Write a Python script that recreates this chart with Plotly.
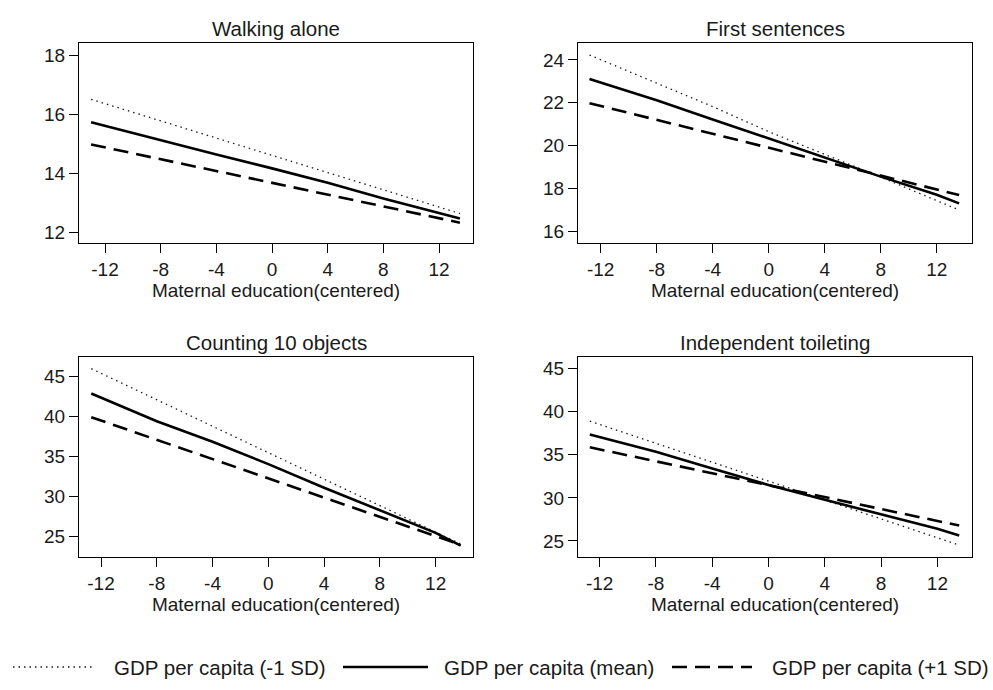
import plotly.graph_objects as go

W, H = 993, 690

# ---------------- data ----------------
titles = ["Walking alone", "First sentences", "Counting 10 objects", "Independent toileting"]
series_names = ["GDP per capita (-1 SD)", "GDP per capita (mean)", "GDP per capita (+1 SD)"]

x_walk = [-13.0, -8, -4, 0, 4, 8, 12, 13.5]
walk_low = [16.50, 15.77, 15.19, 14.60, 14.02, 13.44, 12.85, 12.63]
walk_mean = [15.72, 15.10, 14.63, 14.16, 13.67, 13.14, 12.65, 12.46]
walk_high = [14.97, 14.47, 14.07, 13.67, 13.27, 12.87, 12.47, 12.32]

x_sent = [-12.8, -8, -4, 0, 4, 8, 12, 13.6]
sent_low = [24.23, 22.91, 21.82, 20.65, 19.60, 18.53, 17.43, 16.99]
sent_mean = [23.11, 22.12, 21.22, 20.32, 19.45, 18.55, 17.70, 17.30]
sent_high = [21.98, 21.20, 20.55, 19.90, 19.25, 18.60, 17.95, 17.69]

x_count = [-12.7, -8, -4, 0, 4, 8, 12, 13.8]
count_low = [45.96, 42.07, 38.77, 35.50, 32.15, 28.84, 25.53, 24.00]
count_mean = [42.84, 39.38, 36.80, 34.00, 31.05, 28.20, 25.40, 23.80]
count_high = [39.88, 37.06, 34.66, 32.26, 29.86, 27.46, 25.06, 23.90]

x_toil = [-12.7, -8, -4, 0, 4, 8, 12, 13.55]
toil_low = [38.90, 36.32, 34.13, 31.93, 29.74, 27.54, 25.35, 24.50]
toil_mean = [37.35, 35.35, 33.40, 31.50, 29.77, 28.10, 26.40, 25.63]
toil_high = [35.87, 34.24, 32.86, 31.47, 30.09, 28.70, 27.32, 26.78]

x_ticks = [-12, -8, -4, 0, 4, 8, 12]
y_ticks = [[12, 14, 16, 18], [16, 18, 20, 22, 24], [25, 30, 35, 40, 45], [25, 30, 35, 40, 45]]
x_title = "Maternal education(centered)"

panels = [
    (x_walk, [walk_low, walk_mean, walk_high]),
    (x_sent, [sent_low, sent_mean, sent_high]),
    (x_count, [count_low, count_mean, count_high]),
    (x_toil, [toil_low, toil_mean, toil_high]),
]

# ---------------- layout / styles ----------------
x_ranges = [[-13.87, 14.44], [-13.62, 14.52], [-13.58, 14.68], [-13.54, 14.46]]
y_ranges = [[11.63, 18.41], [15.45, 24.79], [22.37, 47.42], [23.13, 46.36]]

def px_x(p):
    return p / W

def px_y(p):
    return 1 - p / H

x_doms = [[px_x(79), px_x(473)], [px_x(578), px_x(972)]]
y_doms = [[px_y(243), px_y(43)], [px_y(557), px_y(357)]]

styles = [
    dict(color="#1a1a1a", width=1.3, dash="1.5px,4px"),
    dict(color="#000000", width=2.6, dash="solid"),
    dict(color="#000000", width=2.6, dash="15px,8px"),
]

FONT = "Liberation Sans, Arial, sans-serif"
TXT = "#1a1a1a"

fig = go.Figure()
layout = dict(
    width=W, height=H,
    margin=dict(l=0, r=0, t=0, b=0),
    paper_bgcolor="white", plot_bgcolor="white",
    showlegend=False,
    font=dict(family=FONT, color=TXT, size=19),
)

annotations = []
for i, (xs, ys_list) in enumerate(panels):
    r, c = divmod(i, 2)
    n = i + 1
    xa = "x" if n == 1 else f"x{n}"
    ya = "y" if n == 1 else f"y{n}"
    for s, ys in enumerate(ys_list):
        fig.add_trace(go.Scatter(x=xs, y=ys, mode="lines", name=series_names[s],
                                 line=styles[s], xaxis=xa, yaxis=ya, hoverinfo="skip"))
    common = dict(showline=True, linecolor="black", linewidth=1.3, mirror=True,
                  ticks="outside", ticklen=9, tickwidth=1.3, tickcolor="black",
                  showgrid=False, zeroline=False,
                  tickfont=dict(family=FONT, size=19, color=TXT))
    layout["xaxis" if n == 1 else f"xaxis{n}"] = dict(
        common, domain=x_doms[c], range=x_ranges[i], anchor=ya,
        tickvals=x_ticks, ticktext=[str(v) for v in x_ticks],
        title=dict(text=x_title, standoff=3, font=dict(family=FONT, size=19, color=TXT)))
    layout["yaxis" if n == 1 else f"yaxis{n}"] = dict(
        common, domain=y_doms[r], range=y_ranges[i], anchor=xa,
        tickvals=y_ticks[i], ticktext=[str(v) for v in y_ticks[i]])
    annotations.append(dict(text=titles[i], xref="paper", yref="paper",
                            x=sum(x_doms[c]) / 2, y=y_doms[r][1], xanchor="center",
                            yanchor="bottom", yshift=1, showarrow=False,
                            font=dict(family=FONT, size=20.5, color=TXT)))

# legend (drawn below the panels)
leg_y = px_y(667)
leg_items = [(13, 92, 112), (343, 428, 442), (672, 752, 770)]
shapes = []
for s, (x0, x1, xt) in enumerate(leg_items):
    shapes.append(dict(type="line", xref="paper", yref="paper",
                       x0=px_x(x0), x1=px_x(x1), y0=leg_y, y1=leg_y,
                       line=styles[s]))
    annotations.append(dict(text=series_names[s], xref="paper", yref="paper",
                            x=px_x(xt), y=leg_y, xanchor="left", yanchor="middle",
                            showarrow=False, font=dict(family=FONT, size=20.5, color=TXT)))

layout["annotations"] = annotations
layout["shapes"] = shapes
fig.update_layout(**layout)
fig.write_html("out.html")
